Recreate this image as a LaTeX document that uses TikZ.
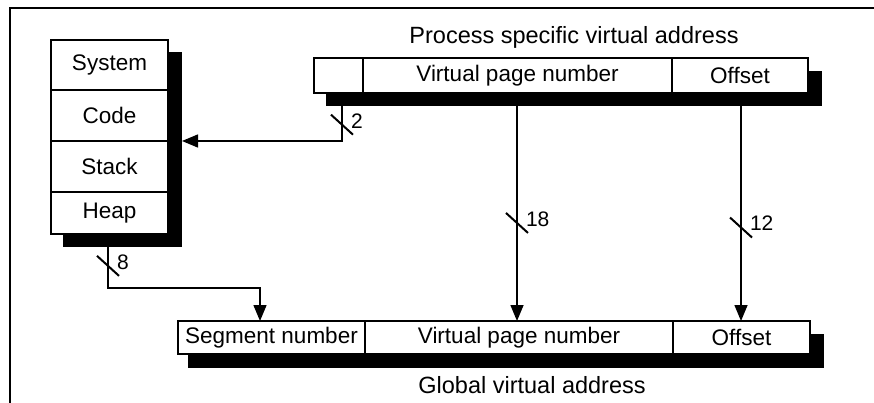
\documentclass[tikz,border=0pt]{standalone}
\usepackage{fontspec}
\setmainfont{Liberation Sans}
\usetikzlibrary{positioning,arrows.meta,backgrounds}

\tikzset{slash/.pic={\draw[-,line width=2pt] (-11,-10) -- (11,10);}}

\begin{document}
\begin{tikzpicture}[x=1pt,y=-1pt,inner sep=0pt,outer sep=0pt,line width=1.5pt,
field/.style={draw,rectangle,fill=white,line width=1.8pt,minimum height=35pt,font=\fontsize{22.5}{26}\selectfont},
segfield/.style={field,minimum width=117pt},
shadowbox/.style={fill=black},
bus/.style={line width=1.5pt,-{Triangle[length=16pt,width=13pt]}},
buslabel/.style={anchor=west,xshift=9pt,yshift=4pt,font=\fontsize{21}{24}\selectfont},
title/.style={font=\fontsize{23.5}{28}\selectfont}]
\useasboundingbox (0,0) rectangle (874,403);

\draw[line width=2.2pt] (874,8) -- (10,8) -- (10,403);

% segment table
\node[segfield,minimum height=50pt] (sys) at (109.5,65) {System};
\node[segfield,minimum height=51pt,below=0pt of sys] (code) {Code};
\node[segfield,minimum height=51pt,below=0pt of code] (stack) {Stack};
\node[segfield,minimum height=42pt,below=0pt of stack] (heap) {Heap};

% process specific address
\node[title] (ptitle) at (574,37) {Process specific virtual address};
\node[field,minimum width=49pt] (psel) at (338.5,75.5) {};
\node[field,minimum width=309pt,right=0pt of psel] (pvpn) {Virtual page number};
\node[field,minimum width=136pt,right=0pt of pvpn] (poff) {Offset};

% global address
\node[field,minimum height=33pt,minimum width=187pt] (gseg) at (271.5,337.5) {Segment number};
\node[field,minimum height=33pt,minimum width=308pt,right=0pt of gseg] (gvpn) {Virtual page number};
\node[field,minimum height=33pt,minimum width=137pt,right=0pt of gvpn] (goff) {Offset};
\node[title] (gtitle) at (532,385) {Global virtual address};

\begin{scope}[on background layer]
\fill[shadowbox] ([shift={(12,12)}]sys.north west) rectangle ([shift={(14,13)}]heap.south east);
\fill[shadowbox] ([shift={(12,13)}]psel.north west) rectangle ([shift={(14,13)}]poff.south east);
\fill[shadowbox] ([shift={(10,13)}]gseg.north west) rectangle ([shift={(14,14)}]goff.south east);
\end{scope}

\draw[bus] ([xshift=3.5pt]psel.south) |- ([xshift=14pt]code.south east)
  pic[pos=.33]{slash} node[pos=.33,buslabel] (w2) {2};
\draw[bus] ([xshift=-0.5pt]pvpn.south) -- ([xshift=-0.5pt]pvpn.south |- gvpn.north)
  pic[pos=.57]{slash} node[pos=.57,buslabel] (w18) {18};
\draw[bus] ([xshift=1pt]poff.south) -- ([xshift=1pt]poff.south |- goff.north)
  pic[pos=.59]{slash} node[pos=.59,buslabel] (w12) {12};
\draw[bus] ([xshift=-1.5pt]heap.south) -- ++(0,54) pic[pos=.59]{slash} node[pos=.59,buslabel] (w8) {8}
  -| ([xshift=-11.5pt]gseg.north);
\end{tikzpicture}
\end{document}
